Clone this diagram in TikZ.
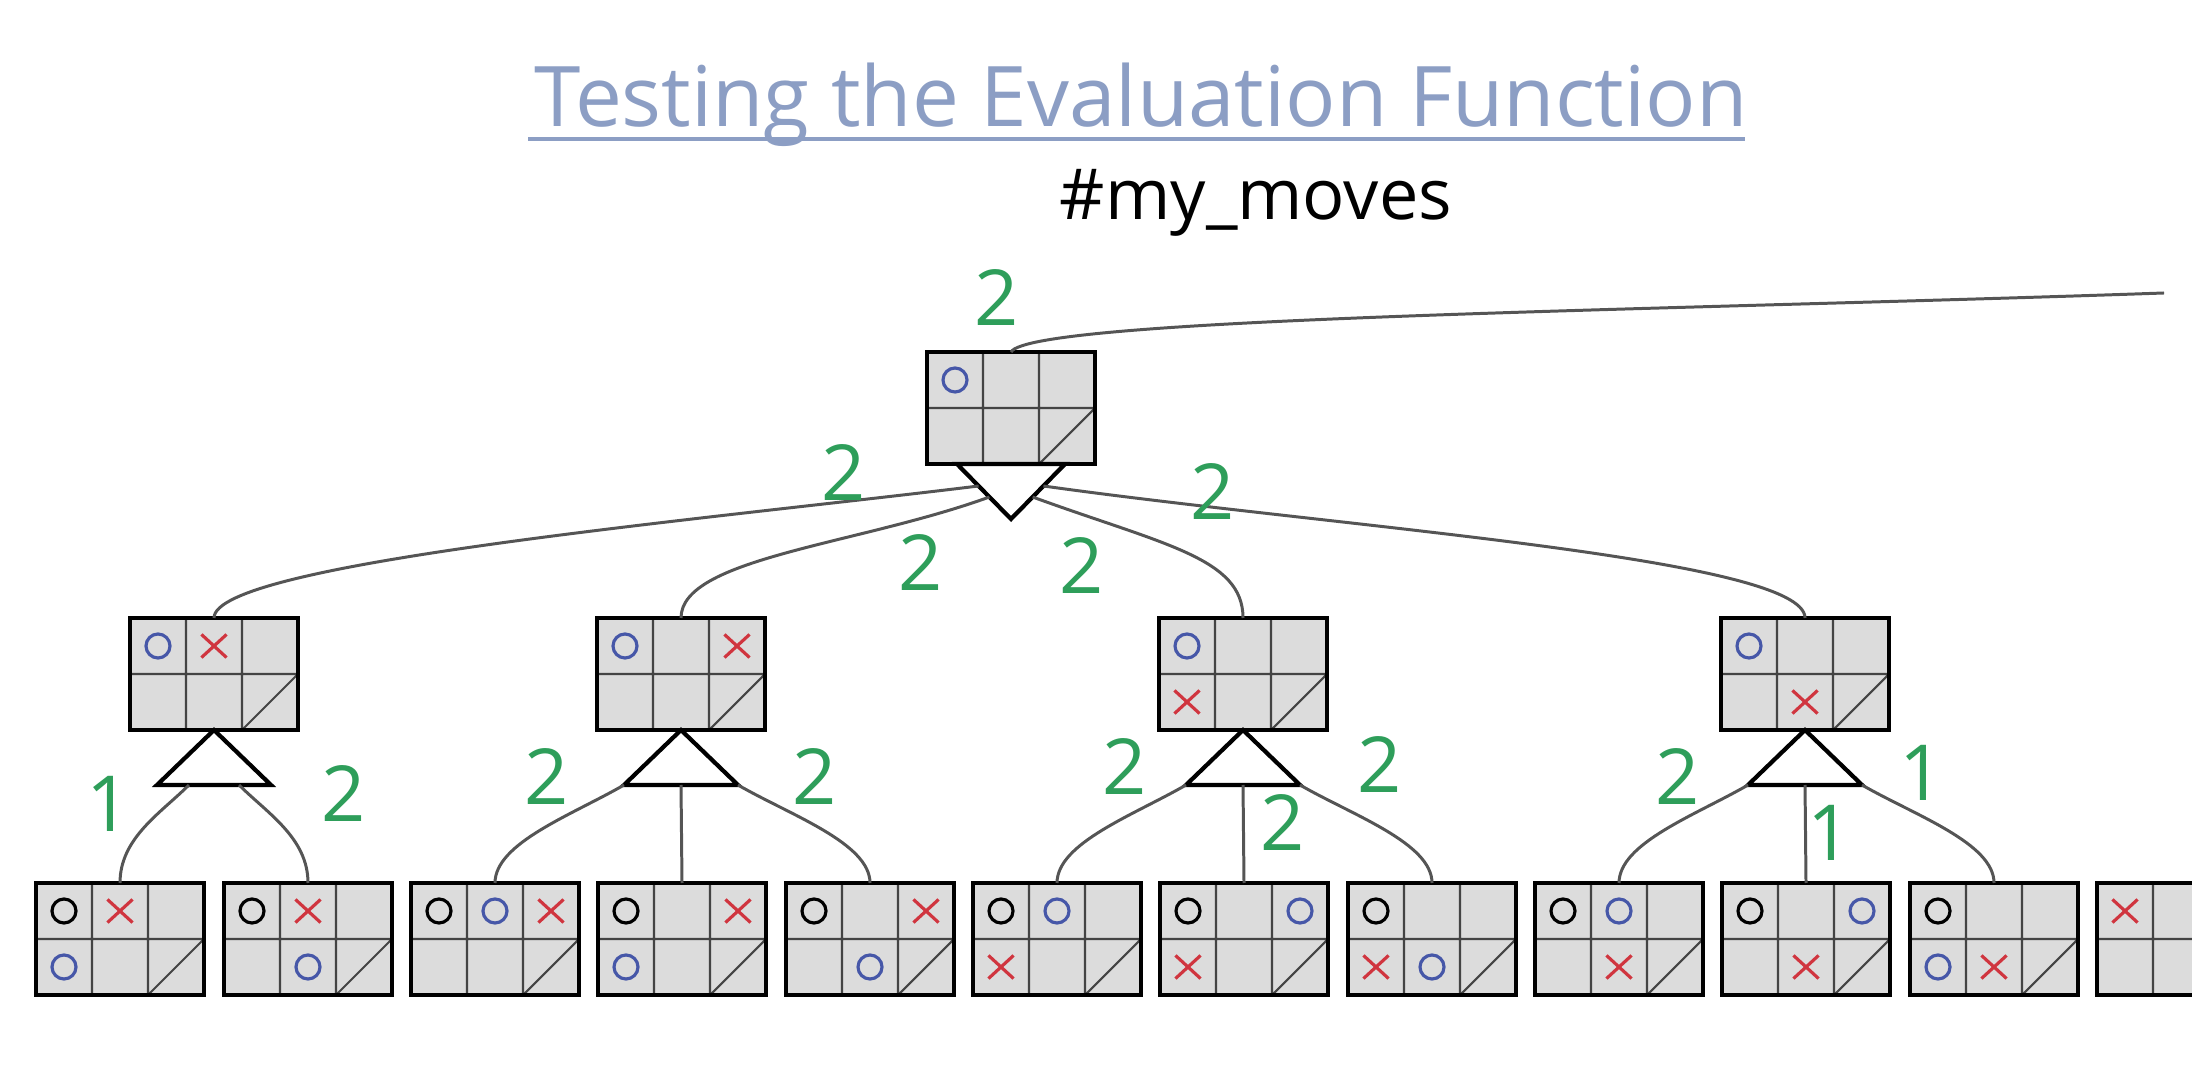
\documentclass[tikz,border=0pt]{standalone}
\usepackage{fontspec}
\setmainfont{Open Sans}
\usetikzlibrary{calc,shapes.misc}

\definecolor{boardgray}{HTML}{DCDCDC}
\definecolor{gridgray}{HTML}{444444}
\definecolor{edgegray}{HTML}{555555}
\definecolor{oblue}{HTML}{4657A8}
\definecolor{xred}{HTML}{D0353F}
\definecolor{scoregreen}{HTML}{2E9E5A}
\definecolor{titleblue}{HTML}{8C9EC4}

\tikzset{
  board/.style={draw=black, line width=1.2pt, fill=boardgray, minimum width=1.68cm,
    minimum height=1.12cm, inner sep=0pt, outer sep=0pt},
  gridline/.style={draw=gridgray, line width=0.6pt},
  tri/.style={draw=black, line width=1.2pt, fill=white, line join=miter},
  edge/.style={draw=edgegray, line width=0.85pt},
  score/.style={text=scoregreen, font=\fontsize{22}{22}\selectfont},
  blueo/.style={draw=oblue, circle, line width=0.9pt, minimum size=0.24cm, inner sep=0pt},
  blacko/.style={draw=black, circle, line width=0.9pt, minimum size=0.24cm, inner sep=0pt},
  redx/.style={draw=xred, cross out, line width=0.9pt, minimum width=0.22cm,
    minimum height=0.2cm, inner sep=0pt},
  title/.style={text=titleblue, font=\fontsize{23.8}{24}\selectfont},
  sub/.style={text=black, font=\fontsize{20}{20}\selectfont},
}

% board: name, centre, marks row/col/style
\newcommand{\tttboard}[3]{%
  \node[board] (#1) at (#2) {};
  \draw[gridline] ($(#1.north west)+(0.56,0)$) -- ($(#1.south west)+(0.56,0)$)
    ($(#1.north west)+(1.12,0)$) -- ($(#1.south west)+(1.12,0)$)
    (#1.west) -- (#1.east)
    ($(#1.south west)+(1.12,0)$) -- (#1.east);
  \foreach \r/\c/\m in {#3} {
    \node[\m] at ($(#1.north west)+(\c*0.56-0.28,-\r*0.56+0.28)$) {};
  }
  \draw[line width=1.2pt] (#1.north west) rectangle (#1.south east);
}
% min node: triangle pointing down
\newcommand{\mintri}[1]{%
  \draw[tri] ($(#1.south)+(-0.54,0)$) coordinate (#1-l)
    -- ($(#1.south)+(0,-0.55)$) coordinate (#1-a)
    -- ($(#1.south)+(0.54,0)$) coordinate (#1-r) -- cycle;
}
% max node: triangle pointing up
\newcommand{\maxtri}[1]{%
  \draw[tri] (#1.south) coordinate (#1-a)
    -- ($(#1.south)+(-0.57,-0.55)$) coordinate (#1-l)
    -- ($(#1.south)+(0.57,-0.55)$) coordinate (#1-r) -- cycle;
}

\begin{document}
\begin{tikzpicture}
  \useasboundingbox (0,0) rectangle (21.92,10.74);
  \clip (0,0) rectangle (21.92,10.74);

  \node[title, anchor=base] (head) at (11.41,9.47) {Testing the Evaluation Function};
  \draw[titleblue, line width=1.2pt] (5.28,9.35) -- (17.45,9.35);
  \node[sub, anchor=base] (moves) at (12.56,8.54) {\#my\_moves};

  % root
  \tttboard{b0}{10.11,6.66}{1/1/blueo}
  \mintri{b0}
  \coordinate (off) at (21.64,7.81);
  \draw[edge] (b0.north) .. controls +(60:0.4) and +(182:5) .. (off);

  % level 1
  \tttboard{b1}{2.14,4.00}{1/1/blueo,1/2/redx}
  \tttboard{b2}{6.81,4.00}{1/1/blueo,1/3/redx}
  \tttboard{b3}{12.43,4.00}{1/1/blueo,2/1/redx}
  \tttboard{b4}{18.05,4.00}{1/1/blueo,2/2/redx}
  \foreach \b in {b1,b2,b3,b4} { \maxtri{\b} }

  \draw[edge] ($(b0-l)!0.4!(b0-a)$) .. controls +(187:2.8) and +(90:0.55) .. (b1.north);
  \draw[edge] ($(b0-l)!0.6!(b0-a)$) .. controls +(200:1.4) and +(90:0.6) .. (b2.north);
  \draw[edge] ($(b0-r)!0.6!(b0-a)$) .. controls +(-20:1.4) and +(90:0.6) .. (b3.north);
  \draw[edge] ($(b0-r)!0.4!(b0-a)$) .. controls +(-8:3.0) and +(90:0.6) .. (b4.north);

  % level 2
  \tttboard{b11}{1.20,1.35}{1/1/blacko,1/2/redx,2/1/blueo}
  \tttboard{b12}{3.08,1.35}{1/1/blacko,1/2/redx,2/2/blueo}
  \tttboard{b21}{4.95,1.35}{1/1/blacko,1/2/blueo,1/3/redx}
  \tttboard{b22}{6.82,1.35}{1/1/blacko,1/3/redx,2/1/blueo}
  \tttboard{b23}{8.70,1.35}{1/1/blacko,1/3/redx,2/2/blueo}
  \tttboard{b31}{10.57,1.35}{1/1/blacko,1/2/blueo,2/1/redx}
  \tttboard{b32}{12.44,1.35}{1/1/blacko,1/3/blueo,2/1/redx}
  \tttboard{b33}{14.32,1.35}{1/1/blacko,2/1/redx,2/2/blueo}
  \tttboard{b41}{16.19,1.35}{1/1/blacko,1/2/blueo,2/2/redx}
  \tttboard{b42}{18.06,1.35}{1/1/blacko,1/3/blueo,2/2/redx}
  \tttboard{b43}{19.94,1.35}{1/1/blacko,2/1/blueo,2/2/redx}
  \tttboard{b51}{21.81,1.35}{1/1/redx}

  \draw[edge] ($(b1-l)!0.28!(b1-r)$) .. controls +(-135:0.4) and +(90:0.45) .. (b11.north);
  \draw[edge] ($(b1-l)!0.72!(b1-r)$) .. controls +(-45:0.4) and +(90:0.45) .. (b12.north);
  \foreach \p/\x/\y/\z in {b2/b21/b22/b23, b3/b31/b32/b33, b4/b41/b42/b43} {
    \draw[edge] (\p-l) .. controls +(-150:0.6) and +(90:0.4) .. (\x.north);
    \draw[edge] ($(\p-l)!0.5!(\p-r)$) -- (\y.north);
    \draw[edge] (\p-r) .. controls +(-30:0.6) and +(90:0.4) .. (\z.north);
  }

  % scores
  \node[score] (s0) at (9.97,7.76) {2};
  \node[score] (s1) at (8.44,6.01) {2};
  \node[score] (s2) at (9.21,5.11) {2};
  \node[score] (s3) at (10.82,5.08) {2};
  \node[score] (s4) at (12.13,5.82) {2};
  \node[score] (s11) at (1.09,2.70) {1};
  \node[score] (s12) at (3.44,2.80) {2};
  \node[score] (s21) at (5.47,2.97) {2};
  \node[score] (s23) at (8.15,2.97) {2};
  \node[score] (s31) at (11.25,3.07) {2};
  \node[score] (s32) at (12.83,2.51) {2};
  \node[score] (s33) at (13.80,3.09) {2};
  \node[score] (s41) at (16.78,2.97) {2};
  \node[score] (s42) at (18.30,2.41) {1};
  \node[score] (s43) at (19.22,3.01) {1};
\end{tikzpicture}
\end{document}
